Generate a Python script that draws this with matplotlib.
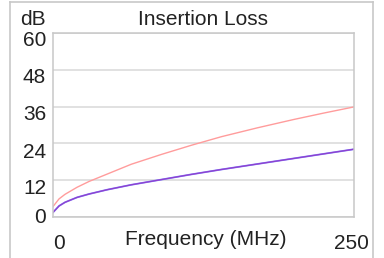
import matplotlib
matplotlib.use("Agg")
import matplotlib.pyplot as plt
import matplotlib.transforms as mtransforms
from matplotlib.lines import Line2D

freq_mhz = [0, 5, 10, 20, 30, 45, 65, 90, 115, 140, 170, 200, 225, 250]
loss_pink = [3.4, 5.9, 7.4, 9.7, 11.6, 14.0, 17.2, 20.4, 23.4, 26.2, 29.1, 31.8, 33.9, 35.9]
loss_blue = [1.5, 3.6, 4.8, 6.4, 7.5, 8.9, 10.5, 12.2, 13.9, 15.5, 17.3, 19.1, 20.6, 22.1]
loss_purple = [1.5, 3.6, 4.8, 6.4, 7.5, 8.9, 10.5, 12.2, 13.9, 15.5, 17.3, 19.1, 20.6, 22.1]

y_ticks = [0, 12, 24, 36, 48, 60]
x_ticks = [0, 250]
x_tick_labels = ["0", "250"]

plt.rcParams['font.family'] = ['Liberation Sans', 'DejaVu Sans']
txt = '#222222'
fs = 15

W, H = 384, 258
fig = plt.figure(figsize=(W / 100, H / 100), dpi=100)
ax = fig.add_axes([53 / W, 1 - 217 / H, 301 / W, 184 / H])

ax.plot(freq_mhz, loss_pink, color='#ff9c9c', lw=1.0)
ax.plot(freq_mhz, loss_blue, color='#8080ff', lw=1.3)
ax.plot(freq_mhz, loss_purple, color='#9040cc', lw=0.9)

ax.set_xlim(0, 250)
ax.set_ylim(0, 60)
ax.set_yticks(y_ticks)
ax.set_xticks(x_ticks)
ax.set_xticklabels(x_tick_labels)
ax.grid(axis='y', color='#d8d8d8', lw=1.1)
ax.set_axisbelow(True)
for s in ax.spines.values():
    s.set_color('#c8c8c8')
    s.set_linewidth(1.1)
ax.tick_params(length=0, labelsize=fs, colors=txt)
ax.tick_params(axis='y', pad=5)
ax.tick_params(axis='x', pad=12.5)

# nudge tick labels like the reference
y_shift = [1.5, -6, -7, -6, -5.5, -5]
for lab, dy in zip(ax.get_yticklabels(), y_shift):
    lab.set_transform(lab.get_transform() + mtransforms.ScaledTranslation(0, dy / 100, fig.dpi_scale_trans))
x_shift = [6, -3]
for lab, dx in zip(ax.get_xticklabels(), x_shift):
    lab.set_transform(lab.get_transform() + mtransforms.ScaledTranslation(dx / 100, 0, fig.dpi_scale_trans))

ax.set_xlabel("Frequency (MHz)", fontsize=fs, color=txt, labelpad=-17)
ax.xaxis.label.set_transform(ax.xaxis.label.get_transform() + mtransforms.ScaledTranslation(2 / 100, 0, fig.dpi_scale_trans))
ax.set_title("Insertion Loss", fontsize=fs, color=txt, pad=6)
fig.text(46 / W, 1 - 25 / H, "dB", fontsize=fs, color=txt, ha='right', va='baseline')

# outer frame
fc = '#c8c8c8'
fig.add_artist(Line2D([10 / W, 10 / W], [0, 1 - 1.5 / H], color=fc, lw=1.2))
fig.add_artist(Line2D([373 / W, 373 / W], [0, 1 - 1.5 / H], color=fc, lw=1.2))
fig.add_artist(Line2D([10 / W, 373 / W], [1 - 1.5 / H, 1 - 1.5 / H], color=fc, lw=1.2))

fig.savefig("out.png", dpi=100)
